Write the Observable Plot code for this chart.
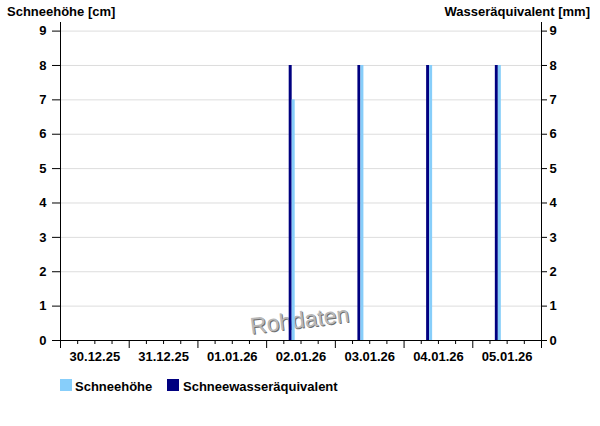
<!DOCTYPE html>
<html>
<head>
<meta charset="utf-8">
<script src="https://cdn.jsdelivr.net/npm/d3@7"></script>
<script src="https://cdn.jsdelivr.net/npm/@observablehq/plot@0.6"></script>
<style>
  html, body { margin: 0; padding: 0; background: #fff; }
  #wrap { position: relative; width: 600px; height: 426px; font-family: "Liberation Sans", Arial, sans-serif; font-size: 13px; font-weight: bold; color: #000; }
  #wrap svg { position: absolute; left: 0; top: 0; }
  .lbl { position: absolute; line-height: 15px; white-space: nowrap; }
  .sw { position: absolute; width: 12px; height: 12px; }
</style>
</head>
<body>
<div id="wrap">
  <div class="lbl" id="tl" style="left:7px; top:4px;"></div>
  <div class="lbl" id="tr" style="right:10px; top:4px;"></div>
  <div class="sw" id="sw1" style="left:60px; top:379px;"></div>
  <div class="lbl" id="lg1" style="left:75px; top:379px;"></div>
  <div class="sw" id="sw2" style="left:167px; top:379px;"></div>
  <div class="lbl" id="lg2" style="left:183px; top:379px;"></div>
</div>
<script>
// ---- data ----
const times = ["2026-01-02T08:45Z", "2026-01-03T08:45Z", "2026-01-04T08:45Z", "2026-01-05T08:45Z"];
const schneehoehe = [7, 8, 8, 8];            // cm
const wasseraequivalent = [8, 8, 8, 8];      // mm
const dayStarts = ["2025-12-30", "2025-12-31", "2026-01-01", "2026-01-02", "2026-01-03", "2026-01-04", "2026-01-05", "2026-01-06"];
const dayLabels = ["30.12.25", "31.12.25", "01.01.26", "02.01.26", "03.01.26", "04.01.26", "05.01.26"];
const yTicks = [0, 1, 2, 3, 4, 5, 6, 7, 8, 9];
const seriesNames = ["Schneehöhe", "Schneewasseräquivalent"];
const colors = ["#87CEFA", "#000080"];
const leftTitle = "Schneehöhe [cm]";
const rightTitle = "Wasseräquivalent [mm]";
const watermark = "Rohdaten";

// ---- derived ----
const data = times.map((t, i) => ({t: new Date(t), hs: schneehoehe[i], swe: wasseraequivalent[i]}));
const majors = dayStarts.map(d => new Date(d + "T00:00Z"));
const start = majors[0], end = majors[majors.length - 1];
const minors = d3.utcHour.every(6).range(start, end).filter(d => d.getUTCHours() !== 0);
const noons = majors.slice(0, -1).map(d => new Date(+d + 12 * 3600e3));
const labelMap = new Map(noons.map((d, i) => [+d, dayLabels[i]]));

const wmStyle = {frameAnchor: "bottom-left", textAnchor: "middle", lineAnchor: "middle", rotate: -7, fontSize: 23, fontWeight: "normal"};

const chart = Plot.plot({
  width: 600,
  height: 426,
  marginTop: 22,
  marginBottom: 86,
  marginLeft: 60,
  marginRight: 59,
  style: {fontFamily: "'Liberation Sans', Arial, sans-serif", fontSize: "13px", fontWeight: "bold", color: "black", background: "transparent"},
  x: {type: "utc", domain: [start, end]},
  y: {domain: [0, 9.25]},
  marks: [
    Plot.gridY(yTicks.slice(1), {stroke: "#dddddd", strokeOpacity: 1}),
    Plot.text([watermark], {...wmStyle, dx: 240, dy: -19, fill: "#6e6e6e"}),
    Plot.text([watermark], {...wmStyle, dx: 239, dy: -20, fill: "#b8b8b8"}),
    Plot.ruleX(data, {x: "t", y1: 0, y2: "swe", stroke: colors[1], strokeWidth: 3, dx: -1.5}),
    Plot.ruleX(data, {x: "t", y1: 0, y2: "hs", stroke: colors[0], strokeWidth: 3, dx: 1.5}),
    Plot.axisY({anchor: "left", ticks: yTicks, tickSize: 8, tickPadding: 6, label: null}),
    Plot.axisY({anchor: "right", ticks: yTicks, tickSize: 5, tickPadding: 3, label: null}),
    Plot.axisX({ticks: majors, tickSize: 8, tickFormat: () => "", label: null}),
    Plot.axisX({ticks: minors, tickSize: 4, tickFormat: () => "", label: null}),
    Plot.axisX({ticks: noons, tickSize: 0, tickPadding: 11, tickFormat: d => labelMap.get(+d), label: null}),
    Plot.ruleY([0], {stroke: "black"}),
    Plot.ruleX([start, end], {stroke: "black"})
  ]
});

document.getElementById("wrap").prepend(chart);
document.getElementById("tl").textContent = leftTitle;
document.getElementById("tr").textContent = rightTitle;
document.getElementById("lg1").textContent = seriesNames[0];
document.getElementById("lg2").textContent = seriesNames[1];
document.getElementById("sw1").style.background = colors[0];
document.getElementById("sw2").style.background = colors[1];
</script>
</body>
</html>
